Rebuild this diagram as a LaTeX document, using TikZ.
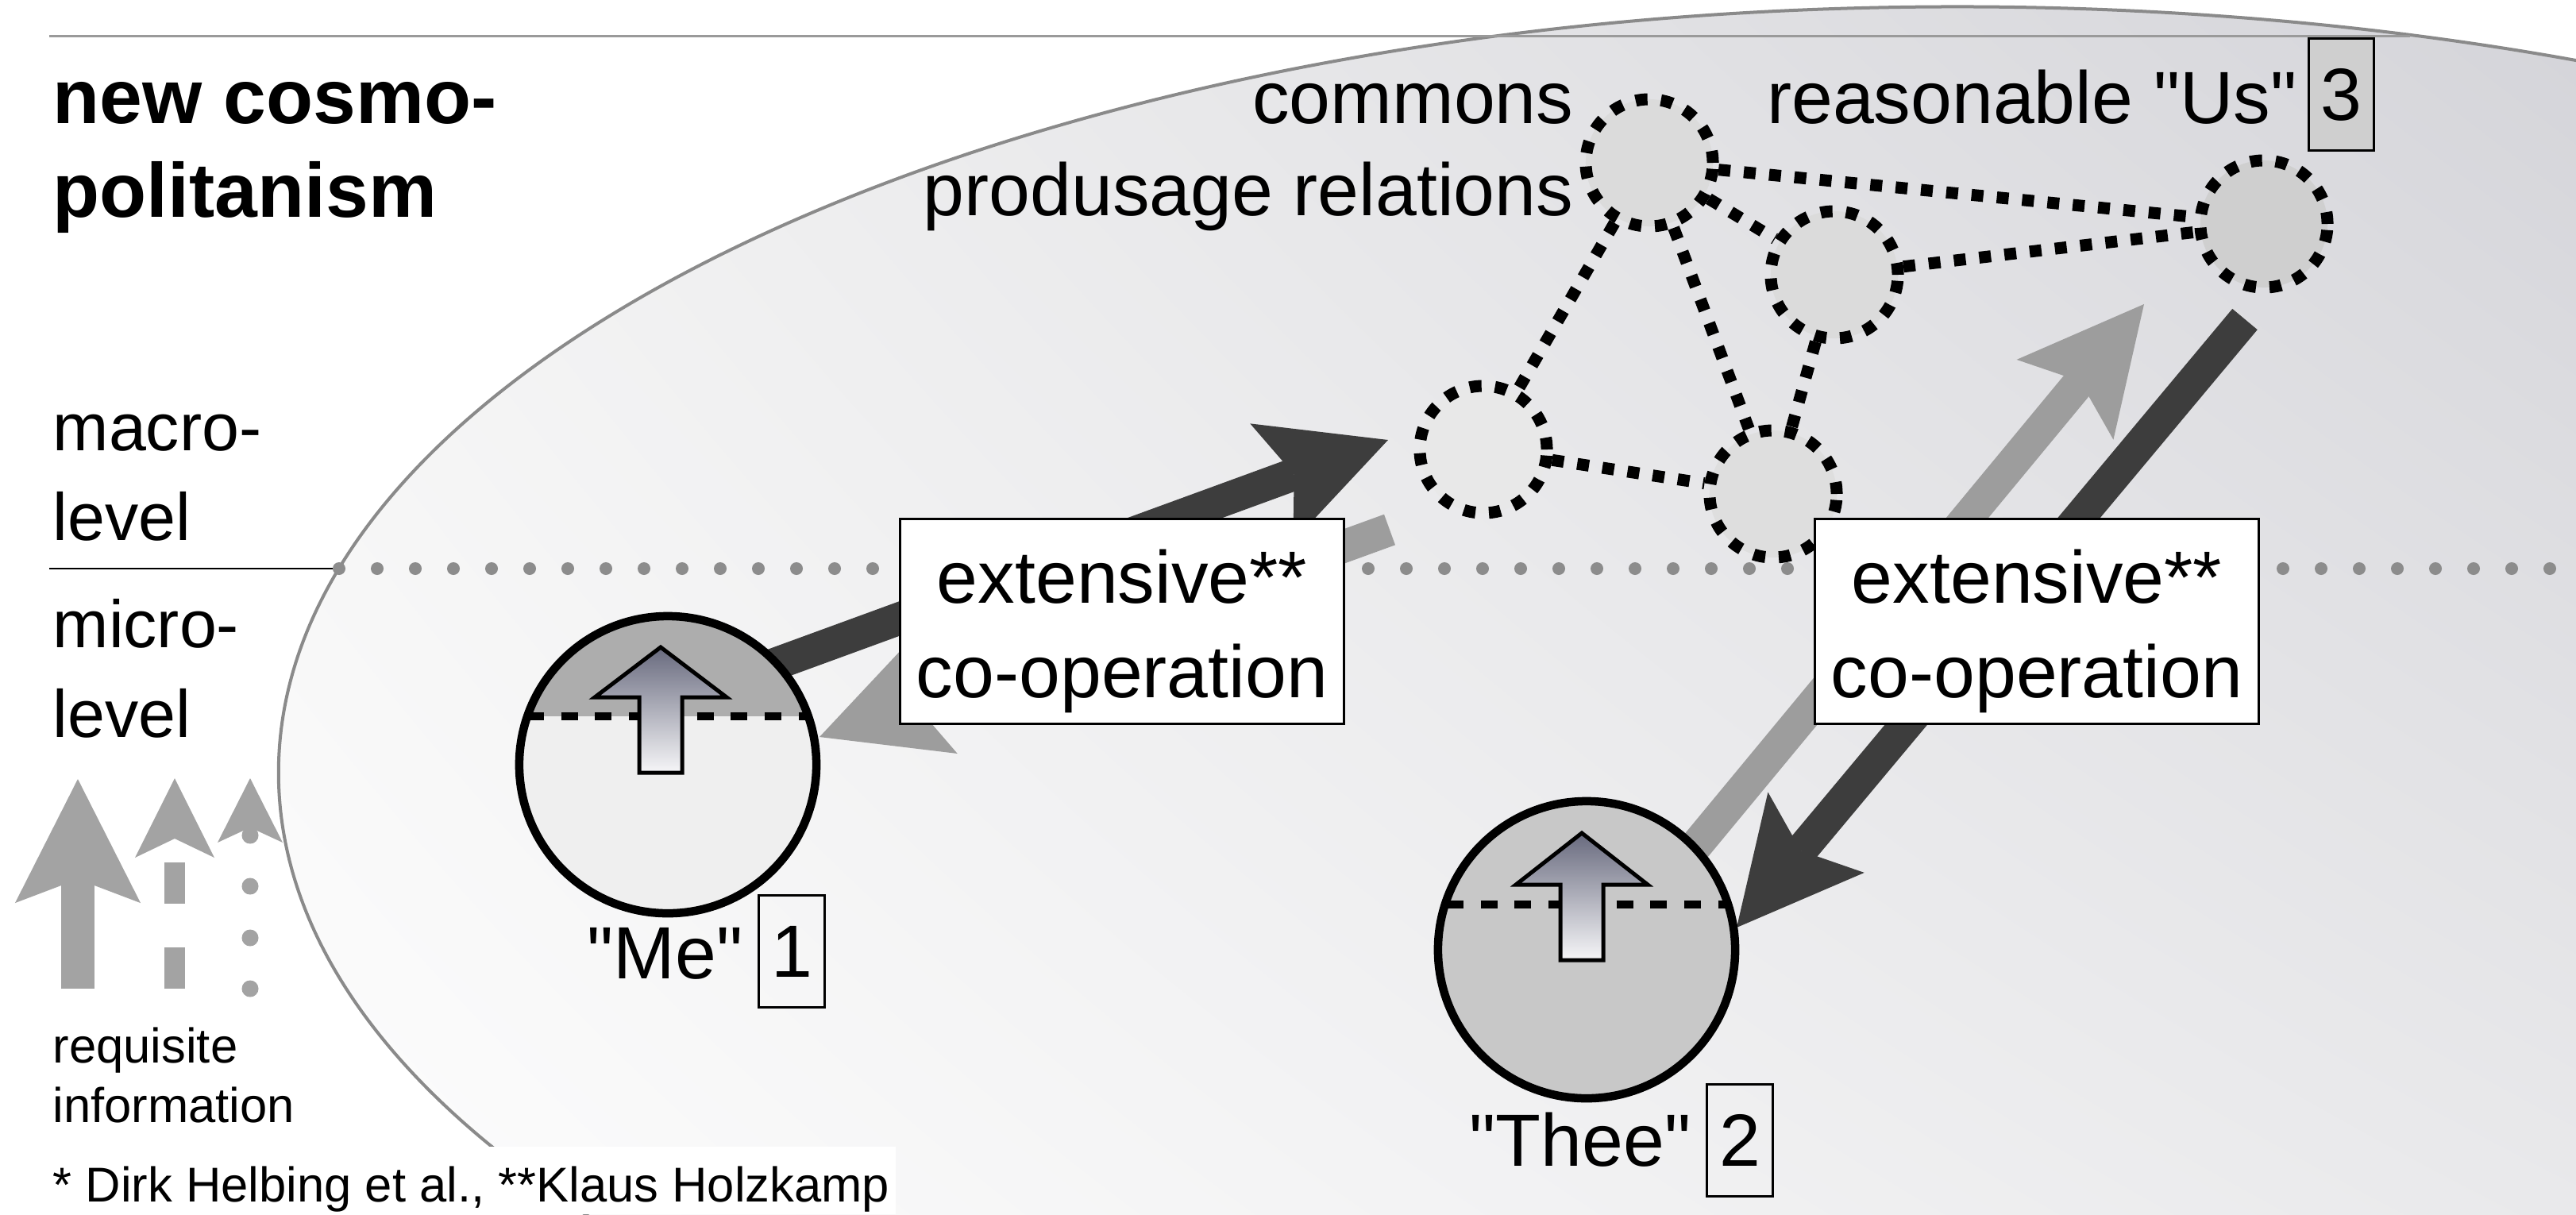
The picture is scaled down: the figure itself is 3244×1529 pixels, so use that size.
\documentclass[tikz,border=0pt]{standalone}
\usepackage{fontspec}
\setmainfont{Liberation Sans}[Ligatures=TeXOff]
\usetikzlibrary{calc,shadings}

\definecolor{darkarrow}{HTML}{3D3D3D}
\definecolor{lightarrow}{HTML}{9D9D9D}
\definecolor{legendgray}{HTML}{A3A3A3}
\definecolor{dotgray}{HTML}{8C8C8C}
\definecolor{rimgray}{HTML}{8A8A8A}
\definecolor{rulegray}{HTML}{9A9A9A}
\definecolor{meupper}{HTML}{ADADAD}
\definecolor{melower}{HTML}{EFEFEF}
\definecolor{theefill}{HTML}{C8C8C8}
\definecolor{boxgray}{HTML}{CFCFCF}
\definecolor{bgA}{HTML}{F3F3F3}
\definecolor{bgB}{RGB}{212,212,217}
\definecolor{bgC}{HTML}{FDFDFD}
\definecolor{bgD}{RGB}{233,233,235}
\definecolor{uptop}{HTML}{686A7E}
\definecolor{upbottom}{HTML}{F6F6F8}

% thick block arrow: colour, tail coordinate, tip coordinate
\newcommand\blockarrow[3]{%
  \coordinate (#3-base) at ($(#3)!1.56cm!(#2)$);
  \coordinate (#3-notch) at ($(#3)!1.26cm!(#2)$);
  \draw[line width=0.41cm, #1] (#2) -- (#3-notch);
  \fill[#1] (#3) -- ($(#3-base)!0.79cm!90:(#3)$) -- (#3-notch)
    -- ($(#3-base)!0.79cm!-90:(#3)$) -- cycle;
}

\tikzset{
  headline/.style={inner sep=0, anchor=base west,
    font=\fontsize{27.5pt}{33pt}\selectfont\bfseries},
  leveltext/.style={inner sep=0, anchor=base west,
    font=\fontsize{24pt}{30pt}\selectfont},
  legendtext/.style={inner sep=0, anchor=base west,
    font=\fontsize{17.5pt}{21pt}\selectfont},
  lbl/.style={inner sep=0, font=\fontsize{26.5pt}{33.86pt}\selectfont},
  coopbox/.style={draw=black, line width=0.03cm, fill=white,
    minimum width=5.58cm, minimum height=2.57cm, inner sep=0, align=center,
    font=\fontsize{26.5pt}{33.86pt}\selectfont},
  numbox/.style={draw=black, line width=0.03cm, minimum width=0.82cm,
    minimum height=1.41cm, inner sep=0, font=\fontsize{26.5pt}{32pt}\selectfont},
  person/.style={circle, draw=black, line width=0.105cm, minimum size=3.74cm, inner sep=0},
  netnode/.style={circle, draw=black, line width=0.15cm,
    dash pattern=on 0.15cm off 0.17cm, minimum size=1.6cm, inner sep=0},
  netlink/.style={draw=black, line width=0.15cm, dash pattern=on 0.15cm off 0.17cm},
  innerdash/.style={draw=black, line width=0.1cm, dash pattern=on 0.21cm off 0.217cm},
  uparrow/.style={top color=uptop, bottom color=upbottom, draw=black,
    line width=0.05cm, miter limit=10},
}

\begin{document}
\begin{tikzpicture}[x=0.01cm, y=-0.01cm]
  \useasboundingbox (0,0) rectangle (3244,1529);
  \fill[white] (0,0) rectangle (3244,1529);

  % shaded oval of the macro sphere
  \begin{scope}
    \clip (2465,973) ellipse [x radius=21.13cm, y radius=9.64cm];
    \shade[upper left=bgA, upper right=bgB, lower left=bgC, lower right=bgD]
      (350,0) rectangle (3244,1529);
  \end{scope}
  \draw[rimgray, line width=0.04cm] (2465,973) ellipse [x radius=21.13cm, y radius=9.64cm];

  % top rule
  \draw[rulegray, line width=0.03cm] (62,45) -- (3035,45);

  % footnote backing
  \fill[white] (0,1444) rectangle (1128,1529);

  % macro / micro divide
  \draw[black, line width=0.025cm] (62,716) -- (427,716);
  \foreach \i in {0,...,59}
    \fill[dotgray] ({427+48*\i},716) circle [radius=0.08cm];

  % network of the commons
  \node[netnode, fill=black!14] (n1) at (2077,205) {};
  \node[netnode, fill=black!14] (n2) at (2310,346) {};
  \node[netnode, fill=black!19] (n3) at (2851,282) {};
  \node[netnode, fill=black!9]  (n4) at (1868,566) {};
  \node[netnode, fill=black!13] (n5) at (2233,622) {};
  \draw[netlink] (n1) -- (n3);
  \draw[netlink] (n2) -- (n3);
  \draw[netlink] (n1) -- (n2);
  \draw[netlink] (n1) -- (n4);
  \draw[netlink] (n1) -- (n5);
  \draw[netlink] (n2) -- (n5);
  \draw[netlink] (n4) -- (n5);

  % co-operation arrows
  \coordinate (aTail) at (900,864);   \coordinate (aTip) at (1748,554);
  \coordinate (bTail) at (1750,667);  \coordinate (bTip) at (1032,928);
  \coordinate (cTail) at (2082,1130); \coordinate (cTip) at (2700,383);
  \coordinate (dTail) at (2827,402);  \coordinate (dTip) at (2187,1168);
  \blockarrow{darkarrow}{aTail}{aTip}
  \blockarrow{lightarrow}{bTail}{bTip}
  \blockarrow{lightarrow}{cTail}{cTip}
  \blockarrow{darkarrow}{dTail}{dTip}

  \node[coopbox] (coopL) at (1413,782.5) {\rule{0pt}{0.92cm}extensive**\\co-operation};
  \node[coopbox] (coopR) at (2565,782.5) {\rule{0pt}{0.92cm}extensive**\\co-operation};

  % "Me"
  \fill[melower] (841,963) circle [radius=1.87cm];
  \begin{scope}
    \clip (841,963) circle [radius=1.87cm];
    \fill[meupper] (600,700) rectangle (1100,902);
    \draw[innerdash] (664,902) -- (1020,902);
  \end{scope}
  \shadedraw[uparrow] (832,815) -- (915,878) -- (859,878) -- (859,973)
    -- (805,973) -- (805,878) -- (749,878) -- cycle;
  \node[person] (me) at (841,963) {};

  % "Thee"
  \fill[theefill] (1998,1196) circle [radius=1.87cm];
  \begin{scope}
    \clip (1998,1196) circle [radius=1.87cm];
    \draw[innerdash] (1822,1139) -- (2178,1139);
  \end{scope}
  \shadedraw[uparrow] (1992,1049) -- (2075,1114) -- (2019,1114) -- (2019,1209)
    -- (1965,1209) -- (1965,1114) -- (1909,1114) -- cycle;
  \node[person] (thee) at (1998,1196) {};

  % titles and labels
  \node[headline] (title1) at (66,155) {new cosmo-};
  \node[headline] (title2) at (66,273) {politanism};
  \node[leveltext] (macro1) at (66,567) {macro-};
  \node[leveltext] (macro2) at (66,680) {level};
  \node[leveltext] (micro1) at (66,815) {micro-};
  \node[leveltext] (micro2) at (66,928) {level};

  \node[lbl, anchor=base east] (commons) at (1982,155) {commons};
  \node[lbl, anchor=base east] (produsage) at (1982,271) {produsage relations};
  \node[lbl, anchor=base east] (us) at (2893,155) {reasonable "Us"};
  \node[numbox, fill=boxgray] (num3) at (2948,119) {3};
  \node[lbl, anchor=base east] (melbl) at (936,1232) {"Me"};
  \node[numbox] (num1) at (997,1198) {1};
  \node[lbl, anchor=base east] (theelbl) at (2130,1468) {"Thee"};
  \node[numbox] (num2) at (2191,1436) {2};

  % legend: requisite information
  \coordinate (legSolidTail) at (98,1245); \coordinate (legSolidTip) at (98,981);
  \blockarrow{legendgray}{legSolidTail}{legSolidTip}
  \coordinate (legDashTail) at (220,1245); \coordinate (legDashNotch) at (220,1056);
  \coordinate (legDashTip) at (220,980);
  \draw[legendgray, line width=0.26cm, dash pattern=on 0.52cm off 0.55cm]
    (legDashTail) -- (legDashNotch);
  \fill[legendgray] (legDashTip) -- (170,1080) -- (legDashNotch) -- (270,1080) -- cycle;
  \coordinate (legDotTip) at (315,980);
  \foreach \y in {1052,1116,1181,1245}
    \fill[legendgray] (315,\y) circle [radius=0.105cm];
  \fill[legendgray] (legDotTip) -- (274,1061) -- (315,1042) -- (356,1061) -- cycle;

  \node[legendtext] (req1) at (66,1338) {requisite};
  \node[legendtext] (req2) at (66,1413) {information};
  \node[legendtext] (foot) at (66,1513) {* Dirk Helbing et al., **Klaus Holzkamp};
\end{tikzpicture}
\end{document}
